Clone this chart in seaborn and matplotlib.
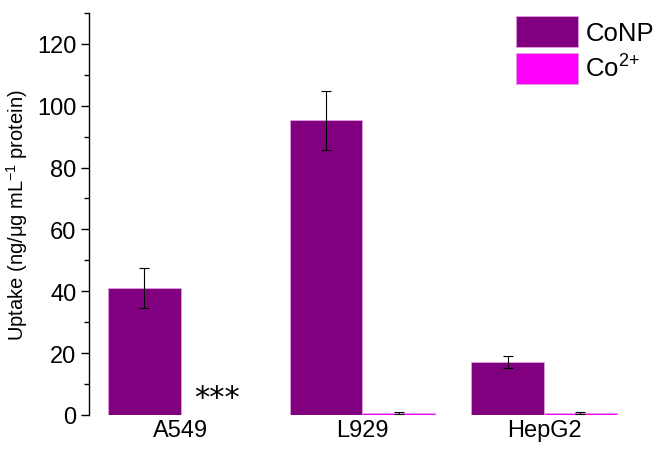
import numpy as np
import pandas as pd
import matplotlib
matplotlib.use("Agg")
import matplotlib.pyplot as plt
import seaborn as sns

# ==========================================================
# DATA
# ==========================================================

cells = ["A549", "L929", "HepG2"]
conp_uptake = [41.0, 95.3, 17.1]
conp_err = [6.5, 9.5, 1.8]
co_uptake = [0.0, 0.6, 0.7]
co_err = [0.0, 0.3, 0.3]
series = ["CoNP", "Co$^{2{+}}$"]
colors = ["#800080", "#FF00FF"]

df = pd.DataFrame({
    "cell": cells * 2,
    "uptake": conp_uptake + co_uptake,
    "err": conp_err + co_err,
    "group": [series[0]] * 3 + [series[1]] * 3,
})

# ==========================================================
# PLOT
# ==========================================================

sns.set_style("ticks")
plt.rcParams["font.family"] = ["Liberation Sans", "DejaVu Sans"]
plt.rcParams["mathtext.fontset"] = "custom"
plt.rcParams["mathtext.rm"] = "Liberation Sans"
plt.rcParams["mathtext.it"] = "Liberation Sans"
plt.rcParams["mathtext.default"] = "rm"
plt.rcParams["text.color"] = "black"
plt.rcParams["axes.labelcolor"] = "black"
plt.rcParams["xtick.color"] = "black"
plt.rcParams["ytick.color"] = "black"
plt.rcParams["axes.edgecolor"] = "black"

fig = plt.figure(figsize=(6.58, 4.52), dpi=100)
ax = fig.add_axes([0.135, 0.08, 0.83, 0.889])

sns.barplot(
    data=df, x="cell", y="uptake", hue="group",
    palette=colors, saturation=1, errorbar=None, width=0.8,
    edgecolor="#e0a0e0", linewidth=0.6, ax=ax,
)

# error bars from the bar containers
for cont, level in zip(ax.containers, series):
    errs = df[df["group"] == level]["err"].values
    xs = [p.get_x() + p.get_width() / 2 for p in cont.patches]
    hs = [p.get_height() for p in cont.patches]
    mask = np.array(hs) > 0
    ax.errorbar(
        np.array(xs)[mask], np.array(hs)[mask], yerr=errs[mask],
        fmt="none", ecolor="black", elinewidth=0.8, capsize=3.5, capthick=0.8,
    )

# significance mark on the empty A549 Co2+ bar
p = ax.containers[1].patches[0]
ax.text(p.get_x() + p.get_width() / 2, 0.8, "***", ha="center", va="bottom",
        fontsize=22, family="DejaVu Sans")

ax.set_ylim(0, 130)
ax.set_xlim(-0.505, 2.5)
ax.set_yticks(range(0, 121, 20))
ax.set_yticks(range(10, 131, 20), minor=True)
ax.tick_params(axis="y", which="major", length=6, width=1, labelsize=17, direction="out", pad=3)
ax.tick_params(axis="y", which="minor", length=3.5, width=1, direction="out")
ax.tick_params(axis="x", length=0, labelsize=17, pad=3)

sns.despine(ax=ax, top=True, right=True, bottom=True)
ax.spines["left"].set_linewidth(1)
ax.set_xlabel("")
ax.set_ylabel("Uptake (ng/\u03bcg mL$^{-1}$ protein)", fontsize=14.5, labelpad=5)

ax.legend(
    loc="upper right", bbox_to_anchor=(1.063, 1.03), frameon=False,
    fontsize=18.5, handlelength=2.4, handleheight=1.45,
    handletextpad=0.3, labelspacing=0.25, borderaxespad=0.2,
)

plt.savefig("out.png", dpi=100)
